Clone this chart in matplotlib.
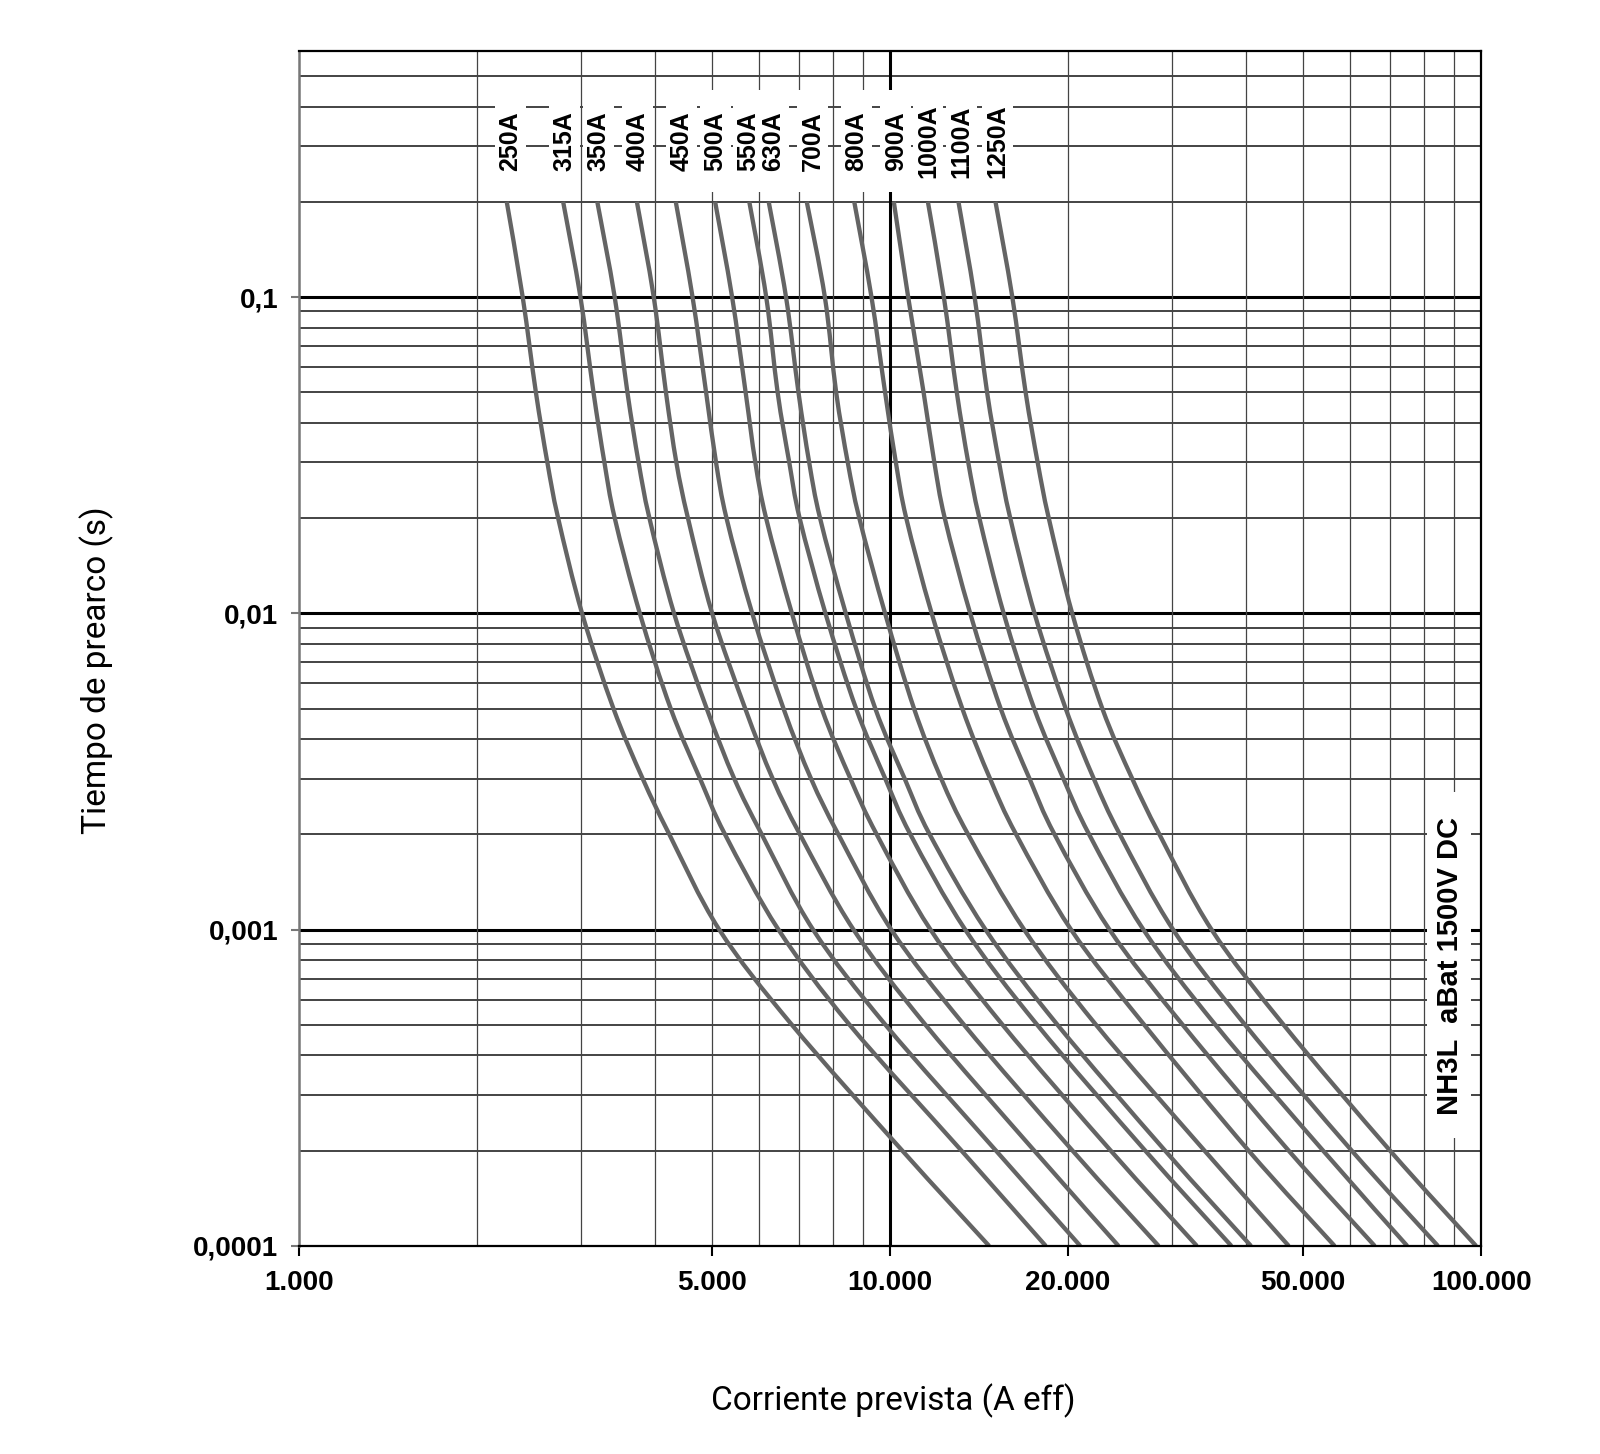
import matplotlib
matplotlib.use("Agg")
import numpy as np
import matplotlib.pyplot as plt
from matplotlib.patches import Rectangle, PathPatch
from matplotlib.path import Path
from matplotlib.ticker import FixedLocator, NullLocator

# Prearc time levels (s) where the curves were read
times = [0.2, 0.1, 0.05, 0.03, 0.02, 0.01, 0.005, 0.003, 0.002, 0.001, 0.0005, 0.0002, 0.0001]

# Prospective current (A) of each fuse curve at the levels above
ratings = ["250A", "315A", "350A", "400A", "450A", "500A", "550A",
           "630A", "700A", "800A", "900A", "1000A", "1100A", "1250A"]
i_250 = [2246, 2390, 2516, 2631, 2744, 3012, 3404, 3815, 4232, 5140, 6822, 10490, 14710]
i_315 = [2798, 2993, 3149, 3286, 3421, 3772, 4254, 4770, 5257, 6474, 8542, 13210, 18340]
i_350 = [3196, 3420, 3594, 3754, 3916, 4310, 4895, 5450, 6066, 7408, 9822, 15110, 20980]
i_400 = [3729, 3982, 4176, 4349, 4550, 5000, 5687, 6330, 7040, 8673, 11480, 17540, 24350]
i_450 = [4339, 4632, 4883, 5076, 5287, 5845, 6602, 7350, 8176, 10045, 13340, 20360, 28470]
i_500 = [5058, 5404, 5696, 5916, 6169, 6822, 7661, 8570, 9493, 11706, 15500, 23630, 33040]
i_550 = [5778, 6172, 6452, 6752, 7030, 7774, 8760, 9815, 10824, 13400, 17740, 27030, 37800]
i_630 = [6232, 6667, 6998, 7297, 7612, 8415, 9440, 10586, 11668, 14505, 19200, 29200, 40800]
i_700 = [7228, 7756, 8105, 8480, 8870, 9807, 10978, 12204, 13553, 16860, 22310, 34050, 47260]
i_800 = [8697, 9301, 9807, 10228, 10650, 11759, 13249, 14764, 16341, 20240, 26920, 40430, 56510]
i_900 = [10146, 10730, 11394, 11882, 12374, 13663, 15385, 17217, 18979, 23510, 31270, 47260, 66070]
i_1000 = [11587, 12330, 12967, 13560, 14160, 15566, 17532, 19648, 21718, 26830, 35520, 54040, 74990]
i_1100 = [13052, 13900, 14592, 15290, 15970, 17553, 19820, 22115, 24480, 30120, 39870, 60420, 84520]
i_1250 = [15078, 16100, 16955, 17770, 18555, 20330, 22860, 25689, 28560, 34990, 46330, 70150, 98070]
curves = [i_250, i_315, i_350, i_400, i_450, i_500, i_550,
          i_630, i_700, i_800, i_900, i_1000, i_1100, i_1250]

# Current at which each rating label is centred
label_x = [2280, 2813, 3207, 3736, 4431, 5070, 5748, 6347, 7395, 8770, 10220, 11590, 13210, 15200]

x_ticks = [1000, 5000, 10000, 20000, 50000, 100000]
x_ticklabels = ["1.000", "5.000", "10.000", "20.000", "50.000", "100.000"]
y_ticks = [0.0001, 0.001, 0.01, 0.1]
y_ticklabels = ["0,0001", "0,001", "0,01", "0,1"]

bold = {'family': 'Liberation Sans', 'weight': 'bold'}
title_font = {'family': 'Roboto', 'size': 24}


def smooth_path(xs, ys):
    # Catmull-Rom through the read points, as Bezier segments in log space
    p = np.column_stack([np.log10(xs), np.log10(ys)])
    ext = np.vstack([p[0], p, p[-1]])
    verts = [p[0]]
    codes = [Path.MOVETO]
    for i in range(len(p) - 1):
        c1 = ext[i + 1] + (ext[i + 2] - ext[i]) / 6.0
        c2 = ext[i + 2] - (ext[i + 3] - ext[i + 1]) / 6.0
        verts += [c1, c2, ext[i + 2]]
        codes += [Path.CURVE4] * 3
    return Path(10 ** np.array(verts), codes)


fig = plt.figure(figsize=(16, 14.54), dpi=100)
ax = fig.add_axes([0.1869, 0.1431, 0.7388, 0.8219])
ax.set_xscale('log')
ax.set_yscale('log')
ax.set_xlim(1000, 100000)
ax.set_ylim(0.0001, 0.6)

# Grid: horizontal lines black, decades thick; vertical lines grey, 10.000 thick
for dec in [0.0001, 0.001, 0.01, 0.1]:
    for k in range(1, 10):
        y = dec * k
        if y >= 0.6 or y == 0.0001:
            continue
        if k == 1:
            ax.axhline(y, color='black', lw=2.2, zorder=1)
        else:
            ax.axhline(y, color='#111111', lw=1.1, zorder=1)
for dec in [1000, 10000]:
    for k in range(1, 10):
        x = dec * k
        if x == 1000:
            continue
        if x == 10000:
            ax.axvline(x, color='black', lw=2.2, zorder=1)
        else:
            ax.axvline(x, color='#444444', lw=0.9, zorder=1)

for vals in curves:
    ax.add_patch(PathPatch(smooth_path(vals, times), facecolor='none', edgecolor='#646464',
                           lw=3.1, capstyle='butt', zorder=3))

# Rating labels above the curves, each on a white box
for name, x0 in zip(ratings, label_x):
    ax.add_patch(Rectangle((x0 / 1.062, 0.215), x0 * 1.062 - x0 / 1.062, 0.45 - 0.215,
                           facecolor='white', edgecolor='none', zorder=4))
    ax.text(x0, 0.31, name, rotation=90, ha='center', va='center',
            fontsize=18, zorder=5, **bold)

# Series name on the right
ax.add_patch(Rectangle((81000, 0.000219), 96200 - 81000, 0.00272 - 0.000219,
                       facecolor='white', edgecolor='none', zorder=4))
ax.text(88500, 0.00077, "NH3L  aBat 1500V DC", rotation=90, ha='center', va='center',
        fontsize=21, zorder=5, **bold)

ax.xaxis.set_major_locator(FixedLocator(x_ticks))
ax.xaxis.set_minor_locator(NullLocator())
ax.set_xticklabels(x_ticklabels, fontsize=20, **bold)
ax.yaxis.set_major_locator(FixedLocator(y_ticks))
ax.yaxis.set_minor_locator(NullLocator())
ax.set_yticklabels(y_ticklabels, fontsize=20, **bold)
ax.tick_params(axis='x', direction='out', length=7, width=1.5, color='black', pad=10)
ax.tick_params(axis='y', direction='out', length=6, width=1.5, color='#777777', pad=9)

for side in ['top', 'right', 'bottom']:
    ax.spines[side].set_color('black')
    ax.spines[side].set_linewidth(1.6)
    ax.spines[side].set_zorder(6)
ax.spines['left'].set_color('#777777')
ax.spines['left'].set_linewidth(1.8)

fig.text(0.0606, 0.539, "Tiempo de prearco (s)", rotation=90, ha='center', va='center', **title_font)
fig.text(0.558, 0.0365, "Corriente prevista (A eff)", ha='center', va='center', **title_font)

fig.savefig("out.png", dpi=100, facecolor='white')
